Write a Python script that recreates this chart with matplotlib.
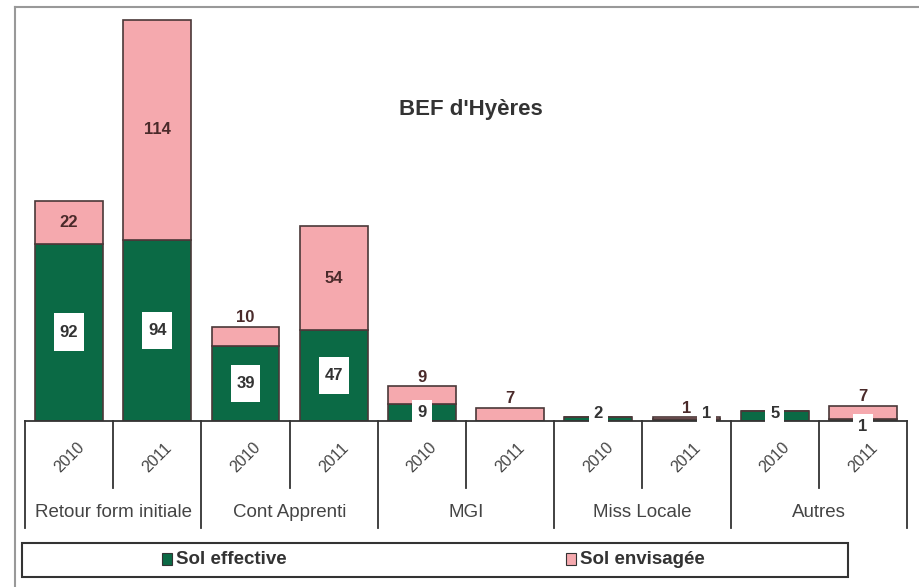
import matplotlib.pyplot as plt
from matplotlib.patches import Rectangle
from matplotlib.lines import Line2D
import numpy as np

plt.rcParams['font.family'] = ['Liberation Sans', 'DejaVu Sans']

groups = ['Retour form initiale', 'Cont Apprenti', 'MGI', 'Miss Locale', 'Autres']
years = ['2010', '2011']
sol_effective = [92, 94, 39, 47, 9, 0, 2, 1, 5, 1]
sol_envisagee = [22, 114, 10, 54, 9, 7, 0, 1, 0, 7]

GREEN = '#0b6a45'
PINK = '#f5a9ae'
EDGE = '#4a3838'
W, H = 919, 587

fig = plt.figure(figsize=(W / 100, H / 100), dpi=100)


def px_box(x0, y0, x1, y1):
    # pixel rectangle (top-left origin) -> figure fraction [l, b, w, h]
    return [x0 / W, 1 - y1 / H, (x1 - x0) / W, (y1 - y0) / H]


ax = fig.add_axes(px_box(25, 7, 907, 421))
n = len(sol_effective)
x = np.arange(n) + 0.5
width = 0.77

eff = np.array(sol_effective)
env = np.array(sol_envisagee)
ax.bar(x, eff, width, color=GREEN, edgecolor=EDGE, linewidth=1.2, zorder=2)
ax.bar(x, env, width, bottom=eff, color=PINK, edgecolor=EDGE, linewidth=1.2, zorder=2)

ax.set_xlim(0, n)
ax.set_ylim(0, 214.7)
for s in ['top', 'right', 'left']:
    ax.spines[s].set_visible(False)
ax.spines['bottom'].set_color('#333333')
ax.spines['bottom'].set_linewidth(1.3)
ax.set_xticks([])
ax.set_yticks([])

# label tweaks where bars are too thin for a centred label
eff_dx = {7: 0.23}
eff_y = {6: 4, 7: 4, 8: 4, 9: -3, 4: 4.5}
box_w, box_h = 0.34, 19.5

for i in range(n):
    if eff[i] > 0:
        yy = eff_y.get(i, eff[i] / 2)
        if eff[i] >= 15:
            # tall white label box inside the green segment
            ax.add_patch(Rectangle((x[i] - box_w / 2, yy - box_h / 2), box_w, box_h,
                                   fc='white', ec='none', zorder=3))
            bbox = None
        else:
            bbox = dict(boxstyle='square,pad=0.3', fc='white', ec='none')
        ax.text(x[i] + eff_dx.get(i, 0), yy, str(eff[i]), ha='center', va='center',
                fontsize=12, fontweight='bold', color='#333333', zorder=4, bbox=bbox)
    if env[i] > 0:
        top = eff[i] + env[i]
        if env[i] >= 15:
            yy = eff[i] + env[i] / 2
        else:
            yy = top + 4.5
        ax.text(x[i], yy, str(env[i]), ha='center', va='center',
                fontsize=12, fontweight='bold', color='#4a2a2a', zorder=4)

# two-level category axis under the bars
for k in range(0, n + 1, 2):
    ax.plot([k, k], [0, -55.5], color='#333333', lw=1.3, clip_on=False)
for k in range(1, n, 2):
    ax.plot([k, k], [0, -34.7], color='#333333', lw=1.3, clip_on=False)
for i in range(n):
    ax.text(x[i], -19, years[i % 2], rotation=45, ha='center', va='center',
            fontsize=11.5, color='#444444')
for g, name in enumerate(groups):
    ax.text(2 * g + 1, -47.7, name, ha='center', va='center',
            fontsize=13.5, color='#444444')

fig.text(471 / W, 1 - 110 / H, "BEF d'Hyères", ha='center', va='center',
         fontsize=16, fontweight='bold', color='#333333')

# legend box
fig.patches.append(Rectangle(px_box(22, 543, 848, 577)[:2], 826 / W, 34 / H,
                             transform=fig.transFigure, fill=False,
                             ec='#333333', lw=1.5))
for sx, color, label in [(162, GREEN, 'Sol effective'), (566, PINK, 'Sol envisagée')]:
    fig.patches.append(Rectangle(px_box(sx, 553, sx + 10, 565)[:2], 10 / W, 12 / H,
                                 transform=fig.transFigure, fc=color,
                                 ec='#333333', lw=0.8))
    fig.text((sx + 14) / W, 1 - 559 / H, label, ha='left', va='center',
             fontsize=13.5, fontweight='bold', color='#333333')

# outer frame
fig.add_artist(Line2D([15 / W, 1], [1 - 7 / H, 1 - 7 / H], transform=fig.transFigure,
                      color='#999999', lw=1.5))
fig.add_artist(Line2D([15 / W, 15 / W], [0, 1 - 7 / H], transform=fig.transFigure,
                      color='#999999', lw=1.5))

fig.savefig('out.png', dpi=100)
